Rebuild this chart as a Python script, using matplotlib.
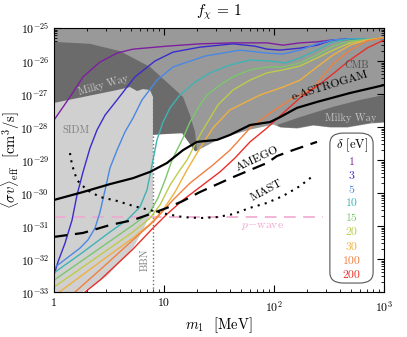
import matplotlib
matplotlib.use("Agg")
import matplotlib.pyplot as plt
import numpy as np
from matplotlib.patches import FancyBboxPatch
from matplotlib.ticker import FixedLocator, FixedFormatter, LogLocator, NullFormatter

plt.rcParams["font.family"] = "serif"
plt.rcParams["font.serif"] = ["cmr10", "DejaVu Serif"]
plt.rcParams["mathtext.fontset"] = "cm"
plt.rcParams["axes.formatter.use_mathtext"] = True
plt.rcParams["axes.unicode_minus"] = False

# --- data (log10 of m1 [MeV], log10 of <sigma v> [cm^3/s]) ---
deltas = ["1", "3", "5", "10", "15", "20", "30", "100", "200"]
colors = ["#7e1fa0", "#3a2ccc", "#4a88e4", "#3fb3b3", "#7cc66c",
          "#bfcb4a", "#f0b040", "#f08040", "#e8302a"]

lm_d1 = [0, 0.145, 0.264, 0.418, 0.573, 0.718, 1.027, 1.327, 1.627, 1.936, 2.082, 2.236, 2.391, 2.536, 2.845, 3.0]
ls_d1 = [-27.79, -27.09, -26.48, -26.03, -25.76, -25.64, -25.55, -25.48, -25.45, -25.45, -25.52, -25.45, -25.42, -25.36, -25.33, -25.33]

lm_d3 = [0, 0.036, 0.1, 0.164, 0.209, 0.264, 0.327, 0.391, 0.464, 0.573, 0.736, 0.918, 1.082, 1.327, 1.627, 1.827, 1.936, 2.055, 2.236, 2.391, 2.536, 2.691, 3.0]
ls_d3 = [-32.48, -32.09, -31.52, -30.82, -30.06, -29.36, -28.64, -28.09, -27.64, -27.18, -26.48, -26.0, -25.73, -25.58, -25.48, -25.55, -25.64, -25.67, -25.61, -25.52, -25.36, -25.33, -25.33]

lm_d5 = [0, 0.118, 0.236, 0.309, 0.373, 0.418, 0.464, 0.509, 0.573, 0.645, 0.718, 0.8, 0.936, 1.082, 1.373, 1.691, 1.936, 2.082, 2.236, 2.391, 2.536, 2.691, 3.0]
ls_d5 = [-32.27, -31.97, -31.67, -31.42, -31.06, -30.58, -29.91, -29.24, -28.70, -28.15, -27.73, -27.18, -26.58, -26.18, -25.85, -25.67, -25.76, -25.79, -25.67, -25.48, -25.36, -25.33, -25.33]

lm_d10 = [0, 0.264, 0.509, 0.664, 0.782, 0.845, 0.891, 0.936, 0.991, 1.055, 1.145, 1.282, 1.418, 1.6, 1.782, 1.964, 2.1, 2.236, 2.391, 2.536, 2.691, 3.0]
ls_d10 = [-32.42, -31.79, -31.18, -30.82, -30.42, -29.91, -29.15, -28.39, -27.85, -27.42, -27.03, -26.64, -26.36, -26.12, -25.97, -26.0, -26.06, -25.91, -25.67, -25.42, -25.33, -25.33]

lm_d15 = [0, 0.418, 0.718, 0.873, 0.945, 1.009, 1.073, 1.173, 1.236, 1.327, 1.391, 1.509, 1.627, 1.782, 1.936, 2.082, 2.236, 2.391, 2.536, 2.691, 3.0]
ls_d15 = [-32.64, -31.67, -30.97, -30.58, -30.15, -29.61, -29.0, -28.33, -27.85, -27.33, -27.03, -26.73, -26.48, -26.27, -26.18, -26.18, -26.06, -25.82, -25.55, -25.39, -25.30]

lm_d20 = [0, 0.418, 0.718, 0.873, 0.964, 1.055, 1.145, 1.209, 1.327, 1.418, 1.491, 1.627, 1.782, 1.936, 2.082, 2.236, 2.391, 2.536, 2.691, 3.0]
ls_d20 = [-32.85, -31.88, -31.18, -30.76, -30.36, -29.76, -29.30, -29.0, -28.24, -27.73, -27.33, -26.88, -26.58, -26.36, -26.27, -26.15, -25.91, -25.67, -25.45, -25.30]

lm_d30 = [0, 0.418, 0.718, 0.873, 0.991, 1.1, 1.209, 1.327, 1.445, 1.6, 1.873, 2.082, 2.236, 2.391, 2.536, 2.691, 2.845, 3.0]
ls_d30 = [-33.12, -32.09, -31.36, -30.94, -30.52, -29.97, -29.30, -28.64, -28.03, -27.48, -27.03, -26.79, -26.58, -26.18, -25.82, -25.52, -25.36, -25.30]

lm_d100 = [0, 0.191, 0.418, 0.718, 0.9, 1.082, 1.236, 1.445, 1.6, 1.782, 1.964, 2.145, 2.355, 2.536, 2.691, 2.845, 3.0]
ls_d100 = [-33.55, -33.0, -32.33, -31.42, -30.88, -30.21, -29.70, -29.15, -28.70, -28.03, -27.58, -27.18, -26.82, -26.09, -25.67, -25.39, -25.30]

lm_d200 = [0.191, 0.282, 0.418, 0.718, 0.9, 1.027, 1.173, 1.327, 1.509, 1.645, 1.782, 1.936, 2.082, 2.236, 2.418, 2.536, 2.691, 2.845, 3.0]
ls_d200 = [-33.24, -33.0, -32.64, -31.70, -31.06, -30.64, -30.21, -29.82, -29.36, -28.94, -28.45, -28.03, -27.58, -27.12, -26.70, -26.39, -25.97, -25.61, -25.36]

curves = [(lm_d1, ls_d1), (lm_d3, ls_d3), (lm_d5, ls_d5), (lm_d10, ls_d10), (lm_d15, ls_d15),
          (lm_d20, ls_d20), (lm_d30, ls_d30), (lm_d100, ls_d100), (lm_d200, ls_d200)]

# experiments
lm_astrogam = [0, 0.264, 0.509, 0.718, 0.873, 1.027, 1.173, 1.3, 1.482, 1.6, 1.782, 1.964, 2.055, 2.209, 2.391, 2.691, 3.0]
ls_astrogam = [-30.21, -29.97, -29.73, -29.55, -29.36, -29.09, -28.70, -28.45, -28.39, -28.24, -27.94, -27.85, -27.70, -27.42, -27.24, -26.97, -26.73]

lm_amego = [0, 0.264, 0.509, 0.718, 0.873, 1.027, 1.173, 1.327, 1.627, 1.936, 2.027, 2.173, 2.391]
ls_amego = [-31.33, -31.21, -30.97, -30.82, -30.64, -30.45, -30.24, -29.97, -29.52, -29.09, -28.88, -28.70, -28.45]

lm_mast = [0.145, 0.164, 0.209, 0.3, 0.418, 0.573, 0.718, 0.873, 1.027, 1.173, 1.327, 1.482, 1.627, 1.782, 1.936, 2.082, 2.236, 2.355]
ls_mast = [-28.79, -29.15, -29.61, -29.91, -30.12, -30.24, -30.39, -30.52, -30.64, -30.73, -30.76, -30.73, -30.64, -30.45, -30.30, -30.09, -29.79, -29.48]

pwave_level = -30.73
pwave_lm_end = 2.445
bbn_lm = 0.9

# excluded regions
lm_cmb = [0, 1.118, 1.164, 1.282, 1.509, 1.782, 1.991, 2.055, 2.209, 2.355, 2.509, 2.664, 2.873, 3.0]
ls_cmb = [-28.24, -28.18, -28.18, -28.73, -28.33, -28.06, -27.91, -28.0, -28.03, -27.94, -28.0, -28.0, -27.88, -27.85]

lm_mw1 = [0, 0.327, 0.6, 0.873, 1.055, 1.173, 1.236, 1.282, 1.3, 1.282, 1.164, 0.9, 0]
ls_mw1 = [-25.42, -25.48, -25.70, -26.18, -26.73, -27.09, -27.64, -28.15, -28.70, -28.73, -28.18, -28.24, -28.24]

lm_mw2 = [2.027, 2.236, 2.536, 2.782, 3.0, 3.0, 2.873, 2.664, 2.509, 2.355, 2.209, 2.055]
ls_mw2 = [-27.94, -27.70, -27.39, -27.18, -27.03, -27.85, -27.88, -28.0, -28.0, -27.94, -28.03, -28.0]

lm_sidm = [0, 0.264, 0.573, 0.691, 0.755, 0.809, 0.873, 0.9, 0.9, 0.873, 0.809, 0.718, 0.6, 0.482, 0.373, 0.255, 0]
ls_sidm = [-27.27, -27.09, -26.88, -26.79, -26.91, -26.85, -26.88, -27.09, -30.42, -30.67, -31.12, -31.67, -32.09, -32.52, -32.76, -33.0, -33.0]

y_decades = np.arange(-33, -24)


def p(a):
    return 10.0 ** np.asarray(a)


fig = plt.figure(figsize=(4.07, 3.37), dpi=100)
ax = fig.add_axes([0.1327, 0.1335, 0.8108, 0.7834])

# regions
ax.fill_between(p(lm_cmb), p(ls_cmb), 1e-25, color="#999999", lw=0, zorder=1)
ax.fill(p(lm_mw1), p(ls_mw1), color="#6b6b6b", lw=0, zorder=2)
ax.fill(p(lm_mw2), p(ls_mw2), color="#6b6b6b", lw=0, zorder=2)
ax.fill(p(lm_sidm), p(ls_sidm), color="#d0d0d0", lw=0, zorder=3)
ax.plot([10 ** bbn_lm] * 2, [1e-33, p(ls_sidm[7])], color="#707070", ls=":", lw=1.0, zorder=4)

# delta curves
for (lm, ls), c in zip(curves, colors):
    ax.plot(p(lm), p(ls), color=c, lw=1.0, zorder=6)

ax.plot(p(lm_astrogam), p(ls_astrogam), color="k", lw=1.6, zorder=7)
ax.plot(p(lm_amego), p(ls_amego), color="k", lw=1.6, dashes=(6, 3.5), zorder=7)
ax.plot(p(lm_mast), p(ls_mast), color="k", lw=1.5, ls=(0, (1, 2.5)), zorder=7)
ax.plot([1, 10 ** pwave_lm_end], [10 ** pwave_level] * 2, color="#f0a8d0", lw=1.2,
        dashes=(7, 4.5), zorder=5)

# labels
ax.text(2.79, 10 ** -26.73, "Milky Way", color="#c8c8c8", fontsize=7.5, rotation=16,
        ha="center", va="center", zorder=8)
ax.text(501, 10 ** -27.73, "Milky Way", color="#c4c4c4", fontsize=7.5,
        ha="center", va="center", zorder=8)
ax.text(570, 10 ** -26.14, "CMB", color="#505050", fontsize=7.5, ha="center", va="center", zorder=8)
ax.text(320, 10 ** -26.75, "e-ASTROGAM", color="k", fontsize=8.5, rotation=17,
        ha="center", va="center", zorder=8)
ax.text(1.2, 10 ** -28.09, "SIDM", color="#808080", fontsize=7.5, ha="left", va="center", zorder=8)
ax.text(70, 10 ** -28.97, "AMEGO", color="k", fontsize=8.5, rotation=25,
        ha="center", va="center", zorder=8)
ax.text(86, 10 ** -29.91, "MAST", color="k", fontsize=8.5, rotation=28,
        ha="center", va="center", zorder=8)
ax.text(79, 10 ** -31.03, r"$p{-}$wave", color="#f0a8d0", fontsize=8.5,
        ha="center", va="center", zorder=8)
ax.text(6.7, 10 ** -32.03, "BBN", color="#808080", fontsize=7.5, rotation=90,
        ha="center", va="center", zorder=8)

# legend box
box = FancyBboxPatch((0.836, 0.034), 0.131, 0.568, boxstyle="round,pad=0,rounding_size=0.04",
                     transform=ax.transAxes, facecolor="white", edgecolor="#555555", lw=0.8, zorder=9)
ax.add_patch(box)
ax.text(0.902, 0.557, r"$\delta$ [eV]", transform=ax.transAxes, fontsize=9,
        ha="center", va="center", zorder=10)
leg_y = [0.492, 0.439, 0.386, 0.337, 0.280, 0.227, 0.170, 0.117, 0.064]
for lab, c, yy in zip(deltas, colors, leg_y):
    ax.text(0.902, yy, lab, transform=ax.transAxes, color=c, fontsize=8.5,
            ha="center", va="center", zorder=10)

# axes
ax.set_xscale("log")
ax.set_yscale("log")
ax.set_xlim(1, 1000)
ax.set_ylim(1e-33, 1e-25)
ax.xaxis.set_major_locator(FixedLocator([1, 10, 100, 1000]))
ax.xaxis.set_major_formatter(FixedFormatter(["1", "10", r"$10^2$", r"$10^3$"]))
ax.xaxis.set_minor_locator(LogLocator(base=10, subs=np.arange(2, 10), numticks=20))
ax.xaxis.set_minor_formatter(NullFormatter())
ax.yaxis.set_major_locator(FixedLocator(p(y_decades)))
ax.yaxis.set_major_formatter(FixedFormatter([r"$10^{%d}$" % d for d in y_decades]))
ax.yaxis.set_minor_locator(LogLocator(base=10, subs=np.arange(2, 10), numticks=100))
ax.yaxis.set_minor_formatter(NullFormatter())
ax.tick_params(which="both", direction="in", top=True, right=True, labelsize=8.5)
ax.tick_params(axis="x", which="major", pad=5)
ax.tick_params(which="major", length=5, width=0.8)
ax.tick_params(which="minor", length=2.5, width=0.6)
for s in ax.spines.values():
    s.set_zorder(11)

ax.set_xlabel(r"$m_1$  [MeV]", fontsize=10.5, labelpad=1)
ax.set_ylabel(r"$\langle \sigma v \rangle_{\rm eff}$  [cm$^3$/s]", fontsize=10.5, labelpad=-1)
ax.set_title(r"$f_\chi$ = 1", fontsize=11, pad=9)

fig.savefig("out.png", dpi=100)
